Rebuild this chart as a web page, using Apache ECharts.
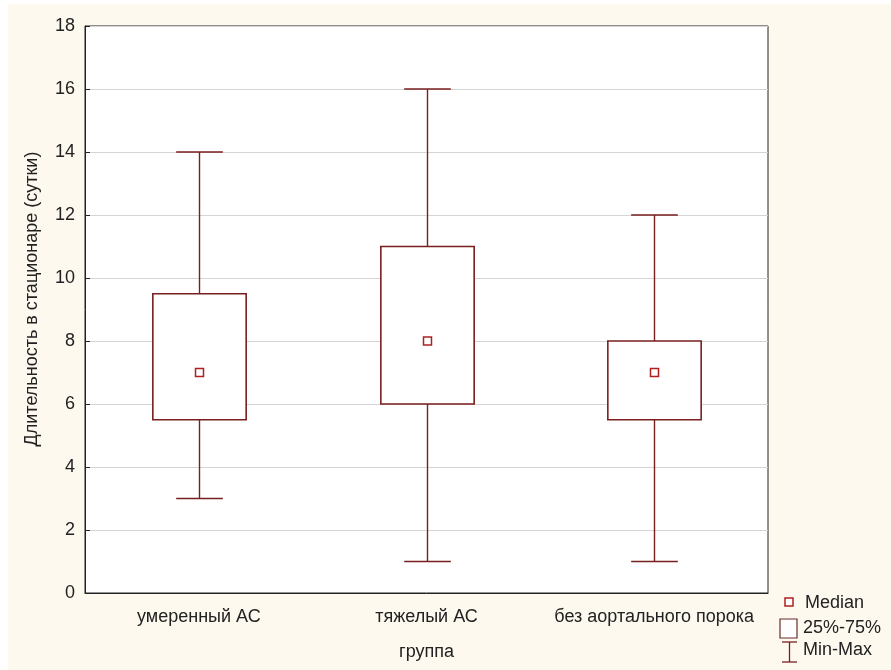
<!DOCTYPE html>
<html><head><meta charset="utf-8">
<script src="https://cdn.jsdelivr.net/npm/echarts@6/dist/echarts.min.js"></script>
<style>
html,body{margin:0;padding:0;background:#fff;}
#c{position:absolute;left:8px;top:4px;width:883px;height:666px;}
</style></head>
<body><div id="c"></div>
<script>
const categories = ['умеренный АС', 'тяжелый АС', 'без аортального порока'];
const minVals    = [3, 1, 1];
const q1Vals     = [5.5, 6, 5.5];
const medianVals = [7, 8, 7];
const q3Vals     = [9.5, 11, 8];
const maxVals    = [14, 16, 12];
const yTicks = [0, 2, 4, 6, 8, 10, 12, 14, 16, 18];

const dark = '#7a1f1f';
const medC = '#b02020';
const font = 'Liberation Sans, Arial, sans-serif';
const fs = 18;

const data = categories.map((c, i) => [i, minVals[i], q1Vals[i], medianVals[i], q3Vals[i], maxVals[i]]);

const chart = echarts.init(document.getElementById('c'));
chart.setOption({
  backgroundColor: '#fdf9ef',
  animation: false,
  grid: { left: 77, top: 22, width: 683, height: 567, show: true, backgroundColor: '#fff', borderColor: '#222', borderWidth: 1 },
  xAxis: {
    type: 'category', data: categories, boundaryGap: true,
    axisLine: { lineStyle: { color: '#222' } },
    axisTick: { inside: true, alignWithLabel: true, length: 4, lineStyle: { color: '#222' } },
    axisLabel: { interval: 0, hideOverlap: false, color: '#222', fontFamily: font, fontSize: fs, margin: 15 },
    name: 'группа', nameLocation: 'middle', nameGap: 50,
    nameTextStyle: { color: '#222', fontFamily: font, fontSize: fs },
    splitLine: { show: false }
  },
  yAxis: {
    type: 'value', min: 0, max: 18, interval: 2,
    axisLine: { show: true, lineStyle: { color: '#222' } },
    axisTick: { show: true, inside: true, length: 5, lineStyle: { color: '#222' } },
    axisLabel: { color: '#222', fontFamily: font, fontSize: fs, margin: 10 },
    splitLine: { show: true, lineStyle: { color: '#d4d4d4' } }
  },
  graphic: [
    { type: 'text', x: 24, y: 295, rotation: Math.PI / 2,
      style: { text: 'Длительность в стационаре (сутки)', fill: '#222', font: fs + 'px ' + font, align: 'center', verticalAlign: 'middle' } },
    // legend
    { type: 'rect', shape: { x: 777, y: 594, width: 8, height: 8 }, style: { fill: '#fff', stroke: medC, lineWidth: 1.5 } },
    { type: 'text', x: 797, y: 599, style: { text: 'Median', fill: '#222', font: fs + 'px ' + font, verticalAlign: 'middle' } },
    { type: 'rect', shape: { x: 772, y: 615, width: 17, height: 19 }, style: { fill: '#fff', stroke: '#6b2a2a', lineWidth: 1.2 } },
    { type: 'text', x: 795, y: 624, style: { text: '25%-75%', fill: '#222', font: fs + 'px ' + font, verticalAlign: 'middle' } },
    { type: 'line', shape: { x1: 774, y1: 638, x2: 789, y2: 638 }, style: { stroke: dark, lineWidth: 1.3 } },
    { type: 'line', shape: { x1: 781.5, y1: 638, x2: 781.5, y2: 658 }, style: { stroke: dark, lineWidth: 1.3 } },
    { type: 'line', shape: { x1: 774, y1: 658, x2: 789, y2: 658 }, style: { stroke: dark, lineWidth: 1.3 } },
    { type: 'text', x: 795, y: 646, style: { text: 'Min-Max', fill: '#222', font: fs + 'px ' + font, verticalAlign: 'middle' } }
  ],
  series: [{
    type: 'custom',
    data: data,
    encode: { x: 0, y: [1, 2, 3, 4, 5] },
    clip: false,
    renderItem: function (params, api) {
      const i = api.value(0);
      const pMin = api.coord([i, api.value(1)]);
      const pQ1 = api.coord([i, api.value(2)]);
      const pMed = api.coord([i, api.value(3)]);
      const pQ3 = api.coord([i, api.value(4)]);
      const pMax = api.coord([i, api.value(5)]);
      const bw = api.size([1, 0])[0] * 0.41;
      const cw = bw / 2;
      const x = Math.round(pMin[0]) + 0.5;
      const ls = { stroke: dark, lineWidth: 1.4 };
      return {
        type: 'group',
        children: [
          { type: 'line', shape: { x1: x, y1: pMax[1], x2: x, y2: pQ3[1] }, style: ls },
          { type: 'line', shape: { x1: x, y1: pQ1[1], x2: x, y2: pMin[1] }, style: ls },
          { type: 'line', shape: { x1: x - cw / 2, y1: pMax[1], x2: x + cw / 2, y2: pMax[1] }, style: ls },
          { type: 'line', shape: { x1: x - cw / 2, y1: pMin[1], x2: x + cw / 2, y2: pMin[1] }, style: ls },
          { type: 'rect', shape: { x: x - bw / 2, y: pQ3[1], width: bw, height: pQ1[1] - pQ3[1] }, style: { fill: '#fff', stroke: dark, lineWidth: 1.6 } },
          { type: 'rect', shape: { x: x - 4, y: pMed[1] - 4, width: 8, height: 8 }, style: { fill: '#fff', stroke: medC, lineWidth: 1.5 } }
        ]
      };
    }
  }]
});
</script></body></html>
